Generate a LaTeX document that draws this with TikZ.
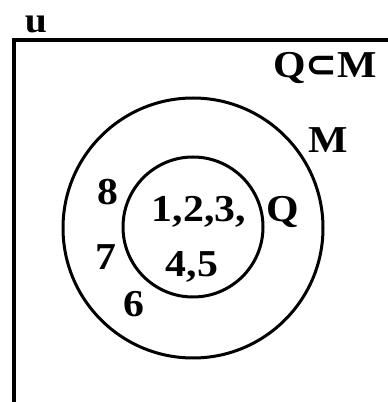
\documentclass[tikz,border=0pt]{standalone}
\usepackage{fontspec}
\setmainfont{Liberation Serif}
\newfontfamily\lletra[FakeStretch=1.1]{Liberation Serif}
\newfontfamily\simbol{DejaVu Sans}
\begin{document}
\begin{tikzpicture}[x=1pt,y=1pt,
    etiq/.style={font=\lletra\fontsize{38}{42}\selectfont\bfseries, anchor=base, inner sep=0pt}]
        \useasboundingbox (0,0) rectangle (388,402);
        \clip (0,0) rectangle (388,402);
        % Conjunt universal, tallat per la dreta i per sota
        \draw[line width=3.5pt] (14,-20) rectangle (420,362);
        \draw[line width=3pt] (193,174) circle (130); % M
        \draw[line width=3pt] (193,175) circle (70);  % Q
        \node[etiq, font=\lletra\fontsize{36}{40}\selectfont\bfseries] (u) at (36,369) {u};
        \node[etiq] (inclusio) at (325,324) {Q{\simbol\bfseries ⊂}M};
        \node[etiq] (M) at (328,249) {M};
        \node[etiq] (Q) at (283,180) {Q};
        \node[etiq] (vuit) at (108,197) {8};
        \node[etiq] (set) at (106,132) {7};
        \node[etiq] (sis) at (134,85) {6};
        \node[etiq] (dalt) at (199,180) {1,2,3,};
        \node[etiq] (baix) at (192,125) {4,5};
\end{tikzpicture}
\end{document}
